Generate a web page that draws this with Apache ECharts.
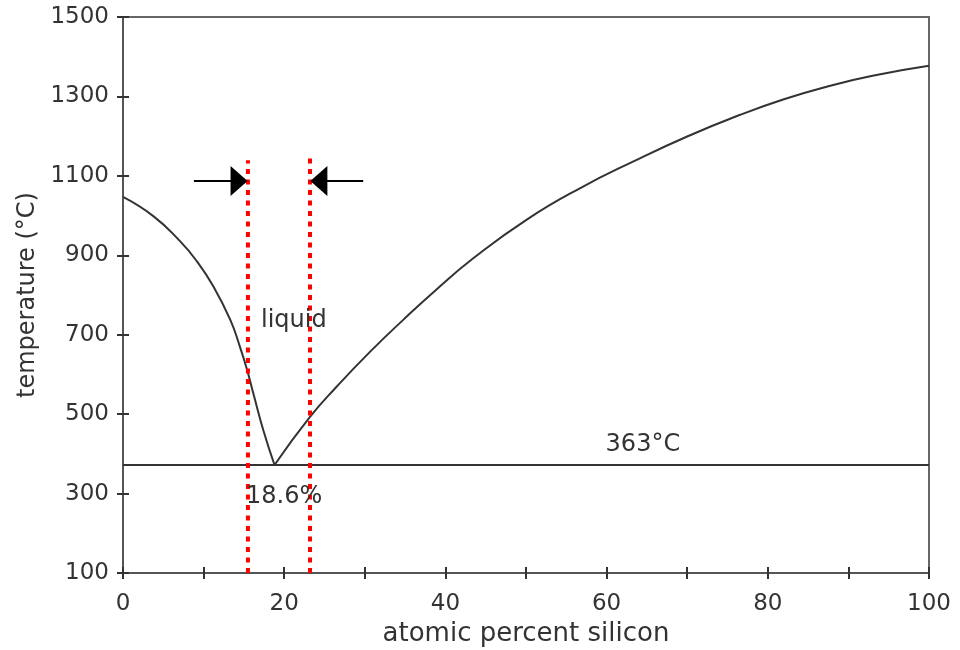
<!DOCTYPE html>
<html>
<head>
<meta charset="utf-8">
<script src="https://cdn.jsdelivr.net/npm/echarts@6/dist/echarts.min.js"></script>
<style>
  html, body { margin: 0; padding: 0; background: #fff; }
  #chart { width: 960px; height: 650px; }
</style>
</head>
<body>
<div id="chart"></div>
<script>
// Al-Si phase diagram (liquidus + eutectic)

var leftSi = [0, 3.8, 7.1, 9.2, 11.2, 13.3, 14.5, 15.4, 16.2, 17.4, 18.8];
var leftTemp = [1047, 998, 935, 884, 822, 738, 670, 611, 550, 460, 372];

var rightSi = [18.8, 23.2, 26.5, 30.7, 34.8, 39.0, 43.5, 50.1, 56.8, 63.4, 70.0, 76.6, 82.0, 87.4, 93.0, 100];
var rightTemp = [372, 493, 569, 658, 738, 816, 893, 990, 1070, 1137, 1199, 1254, 1293, 1325, 1352, 1377];

var eutecticSi = [0, 100];
var eutecticTemp = 372;

// red dotted guide lines
var guideSi = [15.5, 23.2];
var guideTop = [1139, 1144];
var guideBottom = 100;

// arrows pointing at the guides
var arrowFrom = [8.8, 29.8];
var arrowTo = [14.4, 24.3];
var arrowTemp = 1087;

var noteText = ['liquid', '18.6%', '363°C'];
var noteSi = [21.2, 20.0, 64.5];
var noteTemp = [736, 291, 422];

var xTicks = [0, 20, 40, 60, 80, 100];

function zip(a, b) {
  return a.map(function (v, i) { return [v, b[i]]; });
}

window.onload = function () {
  var myChart = echarts.init(document.getElementById('chart'));
  var font = 'DejaVu Sans';
  var textColor = '#333';

  var series = [
    { type: 'line', data: zip(leftSi, leftTemp), symbol: 'none', smooth: 0.5,
      lineStyle: { color: '#333', width: 2 }, z: 3 },
    { type: 'line', data: zip(rightSi, rightTemp), symbol: 'none', smooth: 0.5,
      lineStyle: { color: '#333', width: 2 }, z: 3 },
    { type: 'line', data: eutecticSi.map(function (s) { return [s, eutecticTemp]; }), symbol: 'none',
      lineStyle: { color: '#333', width: 2 }, z: 3 }
  ];

  guideSi.forEach(function (s, i) {
    series.push({
      type: 'line', data: [[s, guideBottom], [s, guideTop[i]]], symbol: 'none',
      lineStyle: { color: '#ff0000', width: 4, type: [5, 5.5] }, z: 4
    });
  });

  series.push({
    type: 'line', data: [], z: 5,
    markLine: {
      silent: true,
      symbol: ['none', 'triangle'],
      symbolSize: [30, 17],
      label: { show: false },
      lineStyle: { color: '#000', width: 2.2, type: 'solid' },
      itemStyle: { color: '#000' },
      data: arrowFrom.map(function (f, i) {
        return [{ coord: [f, arrowTemp] }, { coord: [arrowTo[i], arrowTemp] }];
      })
    }
  });

  series.push({
    type: 'scatter', symbolSize: 0, z: 6,
    itemStyle: { opacity: 1 },
    data: noteText.map(function (t, i) { return [noteSi[i], noteTemp[i], t]; }),
    label: {
      show: true, position: 'inside', color: textColor, fontFamily: font, fontSize: 24,
      formatter: function (p) { return p.data[2]; }
    }
  });

  var option = {
    animation: false,
    grid: { left: 123, right: 31, top: 17, bottom: 77, show: true, borderColor: '#666', borderWidth: 2,
      outerBoundsMode: 'none' },
    xAxis: [{
      type: 'value', min: 0, max: 100, interval: 10,
      name: 'atomic percent silicon', nameLocation: 'middle', nameGap: 42,
      nameTextStyle: { fontFamily: font, fontSize: 26, color: textColor },
      axisLine: { lineStyle: { color: '#555', width: 2 } },
      axisTick: { show: true, length: 6, lineStyle: { color: '#333', width: 2 } },
      axisLabel: {
        fontFamily: font, fontSize: 23, color: textColor, margin: 20,
        formatter: function (v) { return xTicks.indexOf(v) >= 0 ? String(v) : ''; }
      },
      splitLine: { show: false }
    }, {
      type: 'value', min: 0, max: 100, interval: 10, position: 'bottom',
      axisLine: { show: false },
      axisTick: { show: true, inside: true, length: 6, lineStyle: { color: '#333', width: 2 } },
      axisLabel: { show: false }, splitLine: { show: false }
    }],
    yAxis: [{
      type: 'value', min: 100, max: 1500, interval: 200,
      name: 'temperature (°C)', nameLocation: 'middle', nameGap: 63,
      nameTextStyle: { fontFamily: font, fontSize: 24, color: textColor },
      axisLine: { show: true, lineStyle: { color: '#555', width: 2 } },
      axisTick: { show: true, length: 6, lineStyle: { color: '#333', width: 2 } },
      axisLabel: { fontFamily: font, fontSize: 23, color: textColor, margin: 14,
        formatter: function (v) { return String(v); } },
      splitLine: { show: false }
    }, {
      type: 'value', min: 100, max: 1500, interval: 200, position: 'left',
      axisLine: { show: false },
      axisTick: { show: true, inside: true, length: 6, lineStyle: { color: '#333', width: 2 } },
      axisLabel: { show: false }, splitLine: { show: false }
    }],
    series: series
  };

  myChart.setOption(option);
};
</script>
</body>
</html>
